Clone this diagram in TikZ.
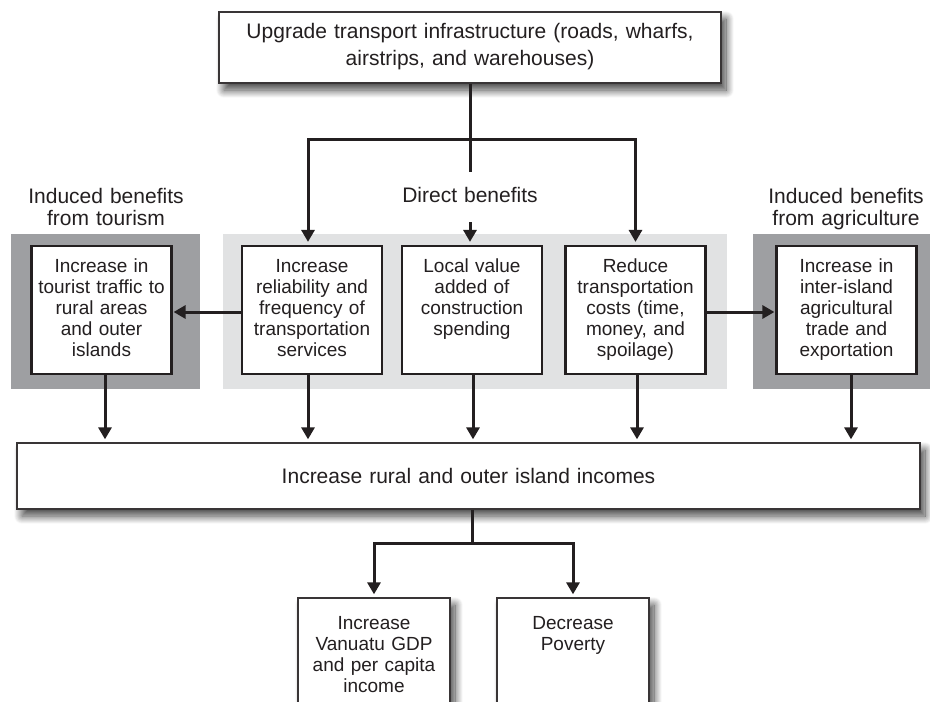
\documentclass[tikz,border=0pt]{standalone}
\usepackage{fontspec}
\setmainfont{Liberation Sans}
\usetikzlibrary{arrows.meta,shadows.blur,calc}
\definecolor{ink}{HTML}{231F20}
\definecolor{panellight}{HTML}{E1E2E3}
\definecolor{paneldark}{HTML}{9E9FA2}
\begin{document}
\begin{tikzpicture}[x=1pt,y=-1pt,
  shadowbox/.style={draw=ink!90, line width=1.3pt, fill=white,
    blur shadow={shadow xshift=5pt, shadow yshift=-7pt, shadow blur radius=8pt,
      shadow blur steps=16, shadow opacity=75}, inner sep=0pt},
  panel/.style={draw=none, inner sep=0pt, minimum height=155pt},
  panelbox/.style={draw=ink, line width=2.2pt, fill=white, minimum width=140pt,
    minimum height=128pt, inner sep=0pt},
  boxtext/.style={font=\fontsize{19}{21}\selectfont, text=ink, align=center,
    text width=150pt, anchor=base, inner sep=0pt},
  headtext/.style={font=\fontsize{21}{22}\selectfont, text=ink, align=center,
    text width=200pt, anchor=base, inner sep=0pt},
  toptext/.style={font=\fontsize{21}{27}\selectfont, text=ink, align=center,
    text width=490pt, anchor=base, inner sep=0pt},
  conn/.style={draw=ink, line width=3pt},
  arrow/.style={conn, -{Triangle[width=13pt,length=12pt]}, shorten >=3pt},
  harrow/.style={conn, -{Triangle[width=13pt,length=12pt]}, shorten >=1pt},
]
\clip (0,0) rectangle (930,702);
% panels
\node[panel, fill=paneldark, minimum width=189pt] (pL) at (105.5,311.5) {};
\node[panel, fill=panellight, minimum width=504pt] (pM) at (475,311.5) {};
\node[panel, fill=paneldark, minimum width=179pt] (pR) at (842.5,311.5) {};
% top box
\node[shadowbox, minimum width=502pt, minimum height=71pt] (top) at (470,47.5) {};
\node[toptext] (ttop) at (470,38) {Upgrade transport infrastructure (roads, wharfs,\\airstrips, and warehouses)};
% headers
\node[headtext] (hL) at (106,203) {Induced benefits\\from tourism};
\node[headtext] (hM) at (470,202) {Direct benefits};
\node[headtext] (hR) at (846,203) {Induced benefits\\from agriculture};
% benefit boxes
\node[panelbox] (b1) at (101.5,310) {};
\node[panelbox] (b2) at (312,310) {};
\node[panelbox] (b3) at (472,310) {};
\node[panelbox] (b4) at (635.5,310) {};
\node[panelbox] (b5) at (846.5,310) {};
\node[boxtext] (t1) at (101.5,272) {Increase in\\tourist traffic to\\rural areas\\and outer\\islands};
\node[boxtext] (t2) at (312,272) {Increase\\reliability and\\frequency of\\transportation\\services};
\node[boxtext] (t3) at (472,272) {Local value\\added of\\construction\\spending};
\node[boxtext] (t4) at (635.5,272) {Reduce\\transportation\\costs (time,\\money, and\\spoilage)};
\node[boxtext] (t5) at (846.5,272) {Increase in\\inter-island\\agricultural\\trade and\\exportation};
% big box
\node[shadowbox, minimum width=903pt, minimum height=66pt] (big) at (468.5,476) {};
\node[headtext, text width=800pt] (tbig) at (468.5,483) {Increase rural and outer island incomes};
% bottom boxes
\node[shadowbox, minimum width=152pt, minimum height=130pt] (g1) at (374,663) {};
\node[shadowbox, minimum width=152pt, minimum height=130pt] (g2) at (573,663) {};
\node[boxtext] (tg1) at (374,629) {Increase\\Vanuatu GDP\\and per capita\\income};
\node[boxtext] (tg2) at (573,629) {Decrease\\Poverty};
% connectors
\coordinate (j1) at (470,139);
\coordinate (gapA) at (470,172);
\coordinate (gapB) at (470,222);
\draw[conn] (top.south) -- (gapA);
\draw[arrow] (j1) -| ([xshift=-4pt]b2.north);
\draw[arrow] (j1) -| (b4.north);
\draw[arrow] (gapB) -- (gapB |- b3.north);
\draw[harrow] ([yshift=-2pt]b2.west) -- ([yshift=-2pt]b1.east);
\draw[harrow] ([yshift=-2pt]b4.east) -- ([yshift=-2pt]b5.west);
\draw[arrow] ([xshift=3.5pt]b1.south) -- ([xshift=3.5pt]b1.south |- big.north);
\draw[arrow] ([xshift=-4pt]b2.south) -- ([xshift=-4pt]b2.south |- big.north);
\draw[arrow] ([xshift=1pt]b3.south) -- ([xshift=1pt]b3.south |- big.north);
\draw[arrow] ([xshift=1.5pt]b4.south) -- ([xshift=1.5pt]b4.south |- big.north);
\draw[arrow] ([xshift=4.5pt]b5.south) -- ([xshift=4.5pt]b5.south |- big.north);
\coordinate (j2) at (472,543);
\draw[conn] (big.south -| j2) -- (j2);
\draw[arrow] (j2) -| (g1.north);
\draw[arrow] (j2) -| (g2.north);
\end{tikzpicture}
\end{document}
